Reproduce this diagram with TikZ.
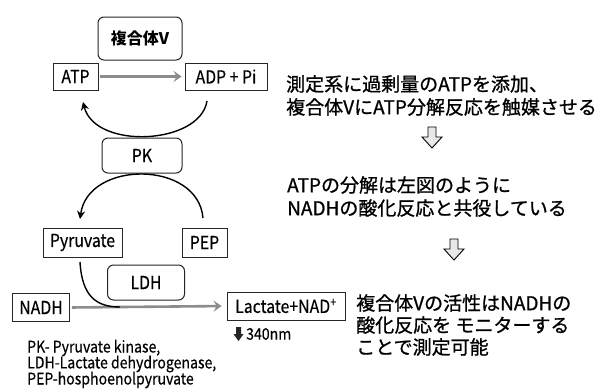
\documentclass[tikz,border=0pt]{standalone}
\usepackage{fontspec}
\setmainfont{Noto Sans CJK JP}
\newfontfamily\narrowf[FakeStretch=0.88,FakeBold=0.4]{Noto Sans CJK JP}
\newfontfamily\heavyf[FakeBold=0.9]{Noto Sans CJK JP}
\usetikzlibrary{arrows.meta}
\begin{document}
\begin{tikzpicture}[x=1pt,y=-1pt,
  box/.style={draw=black!85, line width=0.8pt, inner sep=0pt, font=\narrowf\fontsize{18}{20}\selectfont},
  enz/.style={box, rounded corners=6pt, line width=1pt},
  rxn/.style={draw=black!45, line width=2.6pt, -{Stealth[length=8pt,width=11pt,inset=3pt]}},
  cur/.style={draw=black, line width=1.4pt, -{Stealth[length=8pt,width=8pt,inset=2.5pt]}},
  plain/.style={draw=black, line width=1.4pt},
  note/.style={anchor=west, inner sep=0pt, font=\heavyf\fontsize{19}{22}\selectfont},
  foot/.style={anchor=west, inner sep=0pt, font=\narrowf\fontsize{16}{18}\selectfont},
  hollow/.pic={\draw[line width=0.9pt, fill=gray!18] (-4,0) -- (4,0) -- (4,10) -- (10,10) -- (0,21) -- (-10,10) -- (-4,10) -- cycle;},
  solidarrow/.pic={\fill[black!85] (-2.5,0) -- (2.5,0) -- (2.5,7) -- (5,7) -- (0,14) -- (-5,7) -- (-2.5,7) -- cycle;}
]
\useasboundingbox (0,0) rectangle (612,391);
\fill[white] (0,0) rectangle (612,391);

% enzymes
\node[enz, minimum width=84pt, minimum height=43pt, font=\bfseries\fontsize{16}{18}\selectfont] (cv) at (140,38.5) {複合体V};
\node[enz, minimum width=80pt, minimum height=35pt] (pk) at (142,155.5) {PK};
\node[enz, minimum width=77pt, minimum height=35pt] (ldh) at (146,282.5) {LDH};

% metabolites
\node[box, minimum width=45pt, minimum height=27pt] (atp) at (75.5,76.5) {ATP};
\node[box, minimum width=82pt, minimum height=27pt] (adp) at (226,76.5) {ADP + Pi};
\node[box, minimum width=79pt, minimum height=29pt] (pyr) at (82.5,242.5) {Pyruvate};
\node[box, minimum width=45pt, minimum height=29pt] (pep) at (204.5,242.5) {PEP};
\node[box, minimum width=57pt, minimum height=28pt] (nadh) at (41,307.5) {NADH};
\node[box, minimum width=118pt, minimum height=28pt] (lac) at (286,306) {Lactate+NAD\textsuperscript{+}};

% reaction arrows
\draw[rxn, shorten <=2pt, shorten >=3pt] (atp.east) -- (adp.west);
\draw[rxn, shorten <=2pt, shorten >=5pt] (nadh.east) -- (lac.west);

% curved arrows
\coordinate (c1s) at (207,101);
\coordinate (c1e) at (83,102);
\draw[cur] (c1s) .. controls (200,145) and (95,150) .. (c1e);
\coordinate (c2s) at (203,218);
\coordinate (c2e) at (80,219);
\draw[cur] (c2s) .. controls (198,160) and (88,160) .. (c2e);
\coordinate (c3s) at (80,262);
\coordinate (c3e) at (120,307);
\draw[plain] (c3s) .. controls (82,296) and (96,307) .. (c3e);

% 340 nm
\pic at (238.5,327) {solidarrow};
\node[anchor=west, inner sep=0pt, font=\narrowf\fontsize{16}{18}\selectfont] (nm) at (246,334) {340nm};

% footnote
\node[foot] (f1) at (27,348) {PK- Pyruvate kinase,};
\node[foot] (f2) at (27,364) {LDH-Lactate dehydrogenase,};
\node[foot] (f3) at (27,380) {PEP-hosphoenolpyruvate};

% right-hand text
\node[note] (t1) at (286,84) {測定系に過剰量のATPを添加、};
\node[note] (t2) at (286,107) {複合体VにATP分解反応を触媒させる};
\pic at (432,127) {hollow};
\node[note] (t3) at (287,185) {ATPの分解は左図のように};
\node[note] (t4) at (287,208) {NADHの酸化反応と共役している};
\pic at (454,239) {hollow};
\node[note] (t5) at (356,303) {複合体Vの活性はNADHの};
\node[note] (t6) at (356,325) {酸化反応を モニターする};
\node[note] (t7) at (356,347) {ことで測定可能};
\end{tikzpicture}
\end{document}
